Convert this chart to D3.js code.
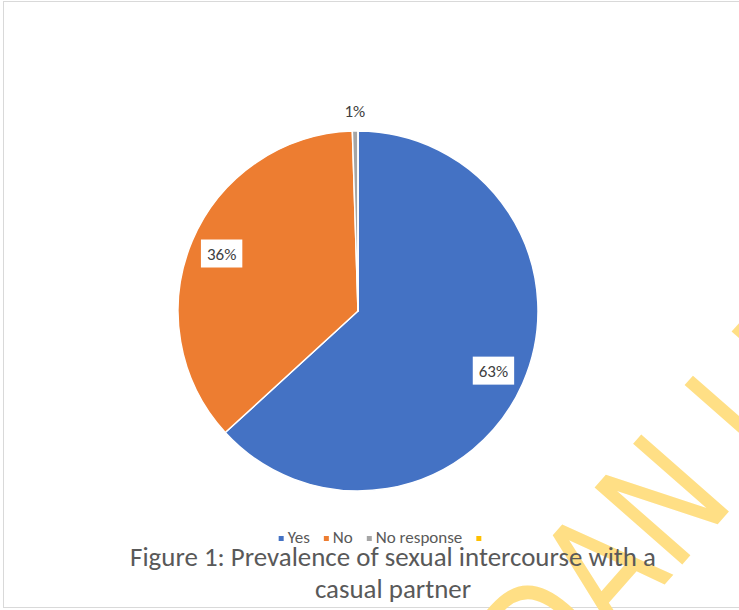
<!DOCTYPE html>
<html><head><meta charset="utf-8">
<script src="https://cdn.jsdelivr.net/npm/d3@7"></script>
<style>html,body{margin:0;padding:0;background:#fff;overflow:hidden}</style>
</head><body><svg id="chart" width="739" height="610"></svg>
<script>
const categories = ["Yes", "No", "No response", ""];
const values = [63.2, 36.3, 0.5, 0];
const pctLabels = ["63%", "36%", "1%", ""];
const colors = ["#4472C4", "#ED7D31", "#A5A5A5", "#FFC000"];
const titleLines = ["Figure 1: Prevalence of sexual intercourse with a", "casual partner"];
const watermarkText = "UNIVERSITY OF IBADAN LIBRARY";

const FONT = "Carlito, Lato, 'Open Sans', sans-serif";
const svg = d3.select("#chart");

// outer chart border
svg.append("rect").attr("x", 3.5).attr("y", 1.5).attr("width", 800).attr("height", 606)
  .attr("fill", "#fff").attr("stroke", "#D9D9D9").attr("stroke-width", 1);

// watermark
const wm = svg.append("g").attr("transform", "translate(674,574) rotate(-48.7) scale(0.8,1)");
const wmText = wm.append("text").attr("x", 0).attr("y", 0)
  .attr("font-family", "'DejaVu Sans', sans-serif")
  .style("font-size", "160px").attr("fill", "#FFDF85").text(watermarkText);
const nIdx = watermarkText.indexOf("IBADAN") + 5;
const nStart = wmText.node().getStartPositionOfChar(nIdx).x;
wmText.attr("x", -nStart);

// pie
const cx = 358, cy = 311, R = 180;
const pie = d3.pie().sort(null).value(d => d)(values);
const arc = d3.arc().innerRadius(0).outerRadius(R);
const g = svg.append("g").attr("transform", `translate(${cx},${cy})`);
g.selectAll("path").data(pie).join("path")
  .attr("d", arc).attr("fill", (d, i) => colors[i])
  .attr("stroke", "#fff").attr("stroke-width", 1.5).attr("stroke-linejoin", "round");

// data labels
const inLabel = d3.arc().innerRadius(148).outerRadius(148);
const outLabel = d3.arc().innerRadius(200).outerRadius(200);
pie.forEach((d, i) => {
  if (!pctLabels[i]) return;
  const inside = (d.endAngle - d.startAngle) > 0.2;
  const [x, y] = (inside ? inLabel : outLabel).centroid(d);
  const t = g.append("text").attr("x", x).attr("y", y + 6)
    .attr("text-anchor", "middle")
    .attr("font-family", FONT).attr("font-size", 17).attr("fill", "#404040")
    .text(pctLabels[i]);
  if (inside) {
    const w = t.node().getComputedTextLength() + 12;
    g.insert("rect", () => t.node()).attr("x", x - w / 2).attr("y", y - 14)
      .attr("width", w).attr("height", 28).attr("fill", "#fff");
  }
});

// legend
const lg = svg.append("g");
const ms = 5, gap = 4, itemGap = 14;
let lx = 0;
categories.forEach((c, i) => {
  lg.append("rect").attr("x", lx).attr("y", 536).attr("width", ms).attr("height", ms)
    .attr("fill", colors[i]);
  lx += ms + gap;
  const t = lg.append("text").attr("x", lx).attr("y", 543)
    .attr("font-family", FONT).attr("font-size", 17).attr("fill", "#595959").text(c);
  lx += (c ? t.node().getComputedTextLength() : 0) + itemGap;
});
lx -= itemGap + gap;
lg.attr("transform", `translate(${380 - lx / 2},0)`);

// title
const titleTarget = 526;
const t0 = svg.append("text").attr("x", 393).attr("y", 566)
  .attr("text-anchor", "middle").attr("font-family", FONT).attr("font-size", 24)
  .attr("fill", "#595959").text(titleLines[0]);
const fs = 24 * titleTarget / t0.node().getComputedTextLength();
t0.attr("font-size", fs);
svg.append("text").attr("x", 393).attr("y", 598)
  .attr("text-anchor", "middle").attr("font-family", FONT).attr("font-size", fs)
  .attr("fill", "#595959").text(titleLines[1]);
</script>
</body></html>
